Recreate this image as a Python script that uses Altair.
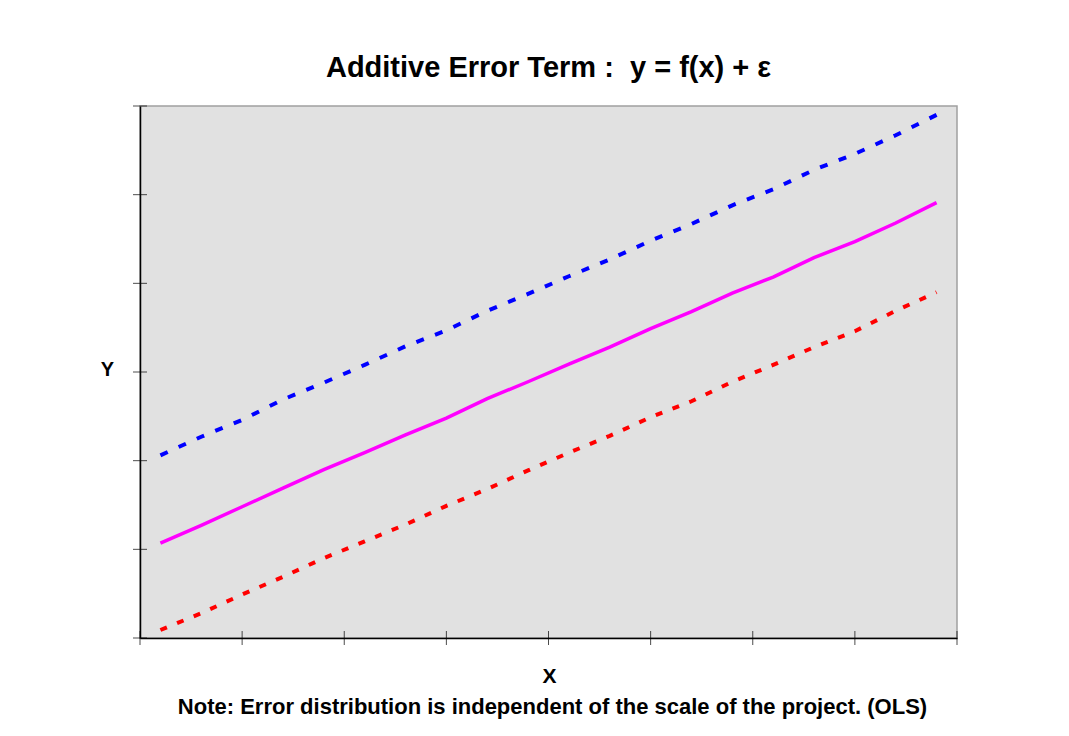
import altair as alt
import pandas as pd

# x positions of the 20 observations
x_vals = [1, 3, 5, 7, 9, 11, 13, 15, 17, 19, 21, 23, 25, 27, 29, 31, 33, 35, 37, 39]
# f(x): expected value (solid magenta)
fx_vals = [10.7, 12.7, 14.8, 16.9, 19.0, 20.9, 22.9, 24.8, 27.0, 28.9,
           30.9, 32.8, 34.9, 36.8, 38.9, 40.7, 42.9, 44.7, 46.8, 49.1]
# upper band f(x) + e (dashed blue)
upper_vals = [20.6, 22.7, 24.6, 26.9, 28.8, 30.8, 32.9, 34.7, 36.9, 38.8,
              40.8, 42.7, 44.8, 46.7, 48.8, 50.6, 52.8, 54.6, 56.7, 59.0]
# lower band f(x) - e (dotted red)
lower_vals = [0.9, 2.8, 4.9, 6.9, 9.0, 10.9, 12.8, 14.9, 16.8, 18.9,
              20.9, 22.8, 24.9, 26.7, 28.9, 30.8, 32.8, 34.6, 36.9, 39.0]
# axis tick positions (unlabelled)
x_ticks = [0, 5, 10, 15, 20, 25, 30, 35, 40]
y_ticks = [0, 10, 20, 30, 40, 50, 60]

title_text = "Additive Error Term :\u00a0 y = f(x) + \u03b5"
note_text = "Note: Error distribution is independent of the scale of the project. (OLS)"

FONT = "Liberation Sans, Arial, Helvetica, sans-serif"

df_fx = pd.DataFrame({"x": x_vals, "y": fx_vals})
df_up = pd.DataFrame({"x": x_vals, "y": upper_vals})
df_lo = pd.DataFrame({"x": x_vals, "y": lower_vals})
df_xt = pd.DataFrame({"t": x_ticks})
df_yt = pd.DataFrame({"t": y_ticks})

xscale = alt.Scale(domain=[0, 40], nice=False, zero=False)
yscale = alt.Scale(domain=[0, 60], nice=False, zero=False)

axis_common = dict(ticks=False, labels=False, grid=False, domain=True,
                   domainColor="#000000", domainWidth=1.5,
                   titleFont=FONT, titleFontWeight="bold", titleColor="#000000")

upper = alt.Chart(df_up).mark_line(color="#0000ff", strokeWidth=4, strokeDash=[8, 12]).encode(
    x=alt.X("x:Q", scale=xscale,
            axis=alt.Axis(title="X", orient="bottom", titleFontSize=21, titleX=409, titleY=44,
                          titleAlign="center", titleBaseline="alphabetic", **axis_common)),
    y=alt.Y("y:Q", scale=yscale,
            axis=alt.Axis(title="Y", orient="left", titleFontSize=20, titleAngle=0,
                          titleX=-33, titleY=263,
                          titleAlign="center", titleBaseline="middle", **axis_common)),
)

mid = alt.Chart(df_fx).mark_line(color="#ff00ff", strokeWidth=3.5).encode(
    x=alt.X("x:Q", scale=xscale, axis=None),
    y=alt.Y("y:Q", scale=yscale, axis=None),
)

lower = alt.Chart(df_lo).mark_line(color="#ff0000", strokeWidth=4, strokeDash=[7, 11]).encode(
    x=alt.X("x:Q", scale=xscale,
            axis=alt.Axis(title=note_text, orient="bottom", titleFontSize=22,
                          titleX=412, titleY=75,
                          titleAlign="center", titleBaseline="alphabetic",
                          ticks=False, labels=False, grid=False, domain=False,
                          titleFont=FONT, titleFontWeight="bold", titleColor="#000000")),
    y=alt.Y("y:Q", scale=yscale, axis=None),
)

xt = alt.Chart(df_xt).mark_tick(orient="vertical", size=14, thickness=1, color="#000000").encode(
    x=alt.X("t:Q", scale=xscale, axis=None),
    y=alt.YDatum(0, scale=yscale, axis=None),
)

yt = alt.Chart(df_yt).mark_tick(orient="horizontal", size=14, thickness=1, color="#000000").encode(
    y=alt.Y("t:Q", scale=yscale, axis=None),
    x=alt.XDatum(0, scale=xscale, axis=None),
)

chart = alt.layer(upper, mid, lower, xt, yt).resolve_axis(
    x="independent", y="independent"
).properties(
    width=817,
    height=532,
    title=alt.TitleParams(title_text, font=FONT, fontSize=29, fontWeight="bold",
                          color="#000000", anchor="middle", baseline="alphabetic", offset=0),
    autosize=alt.AutoSizeParams(type="none"),
    padding={"left": 132, "top": 98, "right": 100, "bottom": 90},
    background="#ffffff",
).configure_view(
    fill="#e1e1e1", stroke="#a0a0a0", strokeWidth=1.5
)

chart.save("out.html", embed_options={"renderer": "svg", "actions": False})
